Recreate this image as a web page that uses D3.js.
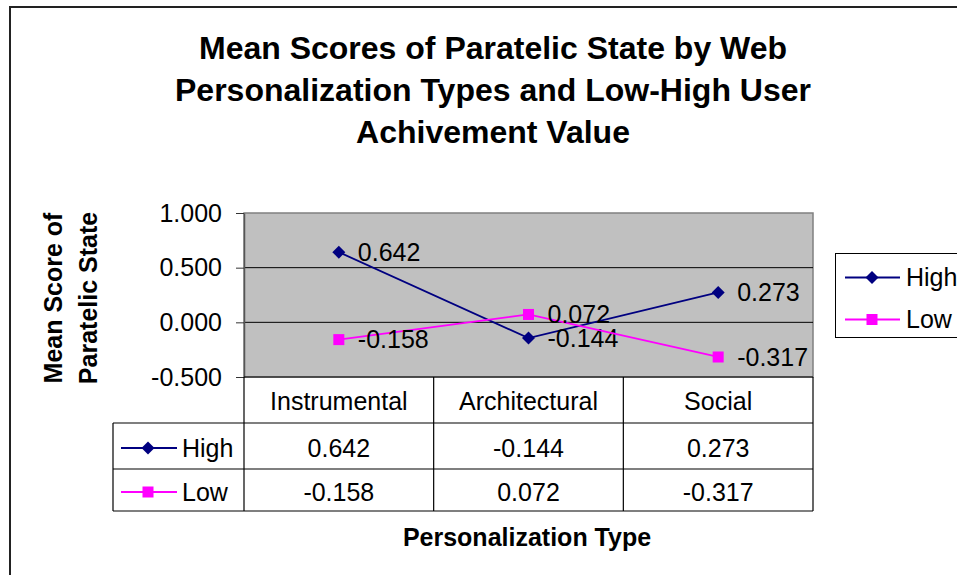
<!DOCTYPE html>
<html>
<head>
<meta charset="utf-8">
<script src="https://cdn.jsdelivr.net/npm/d3@7"></script>
<style>
  html, body { margin: 0; padding: 0; background: #fff; }
  svg { display: block; font-family: "Liberation Sans", Arial, sans-serif; }
</style>
</head>
<body>
<svg width="957" height="575"></svg>
<script>
var categories = ["Instrumental", "Architectural", "Social"];
var highValues = [0.642, -0.144, 0.273];
var lowValues = [-0.158, 0.072, -0.317];
var yTicks = [-0.5, 0, 0.5, 1];
var titleLines = ["Mean Scores of Paratelic State by Web",
                  "Personalization Types and Low-High User",
                  "Achivement Value"];

var series = [
  {name: "High", values: highValues, color: "#000080", marker: "diamond"},
  {name: "Low", values: lowValues, color: "#FF00FF", marker: "square"}
];

var svg = d3.select("svg");
// plain hyphen for negatives, like the original
var fmt3 = d3.format(".3f");
var fmt = function(d) { return fmt3(d).replace("\u2212", "-"); };

var plot = {left: 244, right: 813, top: 213, bottom: 377};

var x = d3.scaleBand().domain(categories).range([plot.left, plot.right]);
var y = d3.scaleLinear().domain([-0.5, 1]).range([plot.bottom, plot.top]);

// outer chart border (runs off the right/bottom of the picture)
svg.append("rect")
    .attr("x", 10).attr("y", 7)
    .attr("width", 980).attr("height", 600)
    .attr("fill", "none")
    .attr("stroke", "#222")
    .attr("stroke-width", 2);

// title
svg.append("g").selectAll("text")
    .data(titleLines)
  .enter().append("text")
    .attr("x", 493)
    .attr("y", function(d, i) { return 59 + i * 42; })
    .attr("text-anchor", "middle")
    .attr("font-size", 32)
    .attr("font-weight", "bold")
    .text(function(d) { return d; });

// plot background
svg.append("rect")
    .attr("x", plot.left).attr("y", plot.top)
    .attr("width", plot.right - plot.left)
    .attr("height", plot.bottom - plot.top)
    .attr("fill", "#C0C0C0")
    .attr("stroke", "#808080")
    .attr("stroke-width", 1.5);

// gridlines
svg.append("g").selectAll("line")
    .data(yTicks.filter(function(d) { return d > -0.5 && d < 1; }))
  .enter().append("line")
    .attr("x1", plot.left).attr("x2", plot.right)
    .attr("y1", function(d) { return y(d); })
    .attr("y2", function(d) { return y(d); })
    .attr("stroke", "#000")
    .attr("stroke-width", 1);

// y axis
var yAxis = svg.append("g")
    .attr("transform", "translate(" + plot.left + ",0)")
    .call(d3.axisLeft(y).tickValues(yTicks).tickFormat(fmt)
      .tickSizeInner(8).tickSizeOuter(0).tickPadding(14));
yAxis.select(".domain").attr("stroke", "#555").attr("stroke-width", 1.5);
yAxis.selectAll(".tick line").attr("stroke", "#333");
yAxis.selectAll("text")
    .attr("font-size", 25)
    .attr("font-family", "'Liberation Sans', Arial, sans-serif")
    .attr("fill", "#000");

// y axis title
var yTitle = svg.append("text")
    .attr("transform", "translate(0,298) rotate(-90)")
    .attr("text-anchor", "middle")
    .attr("font-size", 25)
    .attr("font-weight", "bold");
yTitle.append("tspan").attr("x", 0).attr("y", 53).attr("dy", "0.35em").text("Mean Score of");
yTitle.append("tspan").attr("x", 0).attr("y", 88).attr("dy", "0.35em").text("Paratelic State");

function drawMarker(g, type, color, cx, cy) {
  if (type === "diamond") {
    var r = 6.5;
    g.append("path")
        .attr("d", "M" + cx + "," + (cy - r) + "L" + (cx + r) + "," + cy +
                   "L" + cx + "," + (cy + r) + "L" + (cx - r) + "," + cy + "Z")
        .attr("fill", color);
  } else {
    var s = 11;
    g.append("rect")
        .attr("x", cx - s / 2).attr("y", cy - s / 2)
        .attr("width", s).attr("height", s)
        .attr("fill", color);
  }
}

// lines, markers, data labels
var line = d3.line()
    .x(function(d, i) { return x(categories[i]) + x.bandwidth() / 2; })
    .y(function(d) { return y(d); });

series.forEach(function(s) {
  var g = svg.append("g");
  g.append("path")
      .datum(s.values)
      .attr("d", line)
      .attr("fill", "none")
      .attr("stroke", s.color)
      .attr("stroke-width", 1.8);
  s.values.forEach(function(v, i) {
    var cx = x(categories[i]) + x.bandwidth() / 2;
    drawMarker(g, s.marker, s.color, cx, y(v));
  });
  g.selectAll("text.label")
      .data(s.values)
    .enter().append("text")
      .attr("class", "label")
      .attr("x", function(d, i) { return x(categories[i]) + x.bandwidth() / 2 + 19; })
      .attr("y", function(d) { return y(d); })
      .attr("dy", "0.35em")
      .attr("font-size", 25)
      .text(function(d) { return fmt(d); });
});

// data table
var rowTop = [plot.bottom, 423, 469, 511];
var tableLeft = 113;
var table = svg.append("g").attr("stroke", "#000").attr("stroke-width", 1.2);

// vertical lines of category columns
table.selectAll("line.col")
    .data(x.domain().map(function(d) { return x(d); }).concat([plot.right]))
  .enter().append("line")
    .attr("class", "col")
    .attr("x1", function(d) { return d; }).attr("x2", function(d) { return d; })
    .attr("y1", rowTop[0]).attr("y2", rowTop[3]);
// horizontal row lines
table.append("line").attr("x1", plot.left).attr("x2", plot.right).attr("y1", rowTop[0]).attr("y2", rowTop[0]);
[1, 2, 3].forEach(function(r) {
  table.append("line").attr("x1", tableLeft).attr("x2", plot.right).attr("y1", rowTop[r]).attr("y2", rowTop[r]);
});
table.append("line").attr("x1", tableLeft).attr("x2", tableLeft).attr("y1", rowTop[1]).attr("y2", rowTop[3]);

// category headers
svg.append("g").selectAll("text")
    .data(categories)
  .enter().append("text")
    .attr("x", function(d) { return x(d) + x.bandwidth() / 2; })
    .attr("y", (rowTop[0] + rowTop[1]) / 2 + 1)
    .attr("dy", "0.35em")
    .attr("text-anchor", "middle")
    .attr("font-size", 25)
    .text(function(d) { return d; });

// series rows
series.forEach(function(s, si) {
  var cy = (rowTop[si + 1] + rowTop[si + 2]) / 2 + 2;
  var g = svg.append("g");
  g.append("line")
      .attr("x1", 121).attr("x2", 177)
      .attr("y1", cy).attr("y2", cy)
      .attr("stroke", s.color).attr("stroke-width", 1.8);
  drawMarker(g, s.marker, s.color, 148, cy);
  g.append("text")
      .attr("x", 182).attr("y", cy).attr("dy", "0.35em")
      .attr("font-size", 25)
      .text(s.name);
  g.selectAll("text.val")
      .data(s.values)
    .enter().append("text")
      .attr("class", "val")
      .attr("x", function(d, i) { return x(categories[i]) + x.bandwidth() / 2; })
      .attr("y", cy).attr("dy", "0.35em")
      .attr("text-anchor", "middle")
      .attr("font-size", 25)
      .text(function(d) { return fmt(d); });
});

// x axis title
svg.append("text")
    .attr("x", 527).attr("y", 537).attr("dy", "0.35em")
    .attr("text-anchor", "middle")
    .attr("font-size", 25)
    .attr("font-weight", "bold")
    .text("Personalization Type");

// legend
var legend = svg.append("g");
legend.append("rect")
    .attr("x", 835.5).attr("y", 253.5)
    .attr("width", 140).attr("height", 84)
    .attr("fill", "#fff")
    .attr("stroke", "#000").attr("stroke-width", 1);
series.forEach(function(s, i) {
  var cy = 277.5 + i * 42;
  legend.append("line")
      .attr("x1", 845).attr("x2", 900)
      .attr("y1", cy).attr("y2", cy)
      .attr("stroke", s.color).attr("stroke-width", 1.8);
  drawMarker(legend, s.marker, s.color, 872, cy);
  legend.append("text")
      .attr("x", 906).attr("y", cy).attr("dy", "0.35em")
      .attr("font-size", 25)
      .text(s.name);
});
</script>
</body>
</html>
